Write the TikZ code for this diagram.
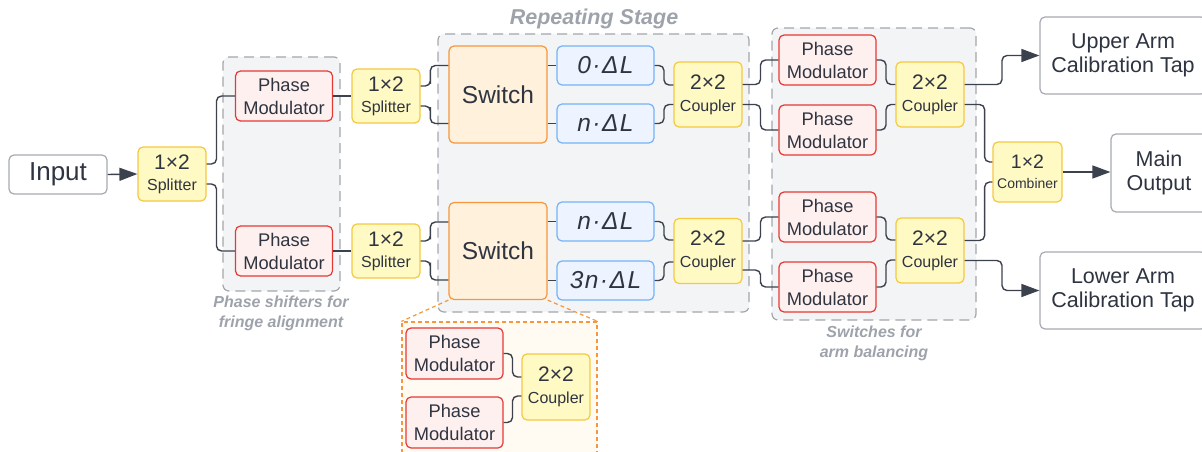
\documentclass[tikz,border=0pt]{standalone}
\usepackage{fontspec}
\setmainfont{Liberation Sans}
\usetikzlibrary{arrows.meta,calc}
\definecolor{ink}{RGB}{46,52,64}
\definecolor{wirec}{RGB}{60,66,77}
\definecolor{ioline}{RGB}{166,170,177}
\definecolor{pmfill}{RGB}{255,240,240}
\definecolor{pmline}{RGB}{229,57,53}
\definecolor{spfill}{RGB}{255,249,196}
\definecolor{spline}{RGB}{245,200,66}
\definecolor{swfill}{RGB}{255,241,219}
\definecolor{swline}{RGB}{247,150,60}
\definecolor{dlfill}{RGB}{237,244,255}
\definecolor{dlline}{RGB}{115,179,247}
\definecolor{grpfill}{RGB}{243,244,246}
\definecolor{grpline}{RGB}{163,166,171}
\definecolor{lblgray}{RGB}{158,163,171}
\definecolor{insetfill}{RGB}{255,251,242}

\newcommand{\ratio}[2]{{\fontsize{21pt}{21pt}\selectfont #1}\\#2}

\begin{document}
\begin{tikzpicture}[x=1pt, y=-1pt, >={Triangle[length=18pt,width=13pt]},
      box/.style={draw, rounded corners=5pt, line width=1.2pt, align=center, inner sep=0pt, text=ink},
      io/.style={box, draw=ioline, fill=white, font=\fontsize{21.5pt}{24pt}\selectfont},
      pmod/.style={box, draw=pmline, fill=pmfill, minimum width=97pt, minimum height=50pt,
                   font=\fontsize{18.3pt}{23pt}\selectfont},
      port/.style={box, draw=spline, fill=spfill, minimum width=68pt, minimum height=54pt,
                   font=\fontsize{16pt}{21pt}\selectfont},
      swbox/.style={box, draw=swline, fill=swfill, minimum width=98pt, minimum height=97pt,
                    font=\fontsize{24.5pt}{26pt}\selectfont},
      delay/.style={box, draw=dlline, fill=dlfill, minimum width=97pt, minimum height=39pt,
                    font=\fontsize{24.5pt}{26pt}\selectfont\itshape\addfontfeature{LetterSpace=6}},
      group/.style={draw=grpline, fill=grpfill, line width=1.2pt, rounded corners=6pt,
                    dash pattern=on 10pt off 6pt, inner sep=0pt},
      grplbl/.style={text=lblgray, align=center, font=\fontsize{16pt}{20pt}\selectfont\bfseries\itshape},
      wire/.style={draw=wirec, line width=1.4pt, rounded corners=5pt},
      zoomline/.style={draw=swline, line width=1.2pt, dash pattern=on 4pt off 3pt},
      hvh/.style={to path={-| ($(\tikztostart)!#1!(\tikztotarget)$) |- (\tikztotarget)}},
      hvh/.default=.5]
    \useasboundingbox (0,0) rectangle (1202,452);

    % dashed groups
    \node[group, minimum width=117pt, minimum height=234pt] (gshift) at (281.5,174) {};
    \node[group, minimum width=311pt, minimum height=278pt] (gstage) at (593.5,173) {};
    \node[group, minimum width=204pt, minimum height=292pt] (gbal) at (874,174) {};
    \node[grplbl] (lshift) at (281,313) {Phase shifters for\\fringe alignment};
    \node[grplbl, font=\fontsize{21.5pt}{22pt}\selectfont\bfseries\itshape] (lstage) at (594,19) {Repeating Stage};
    \node[grplbl] (lbal) at (874,343) {Switches for\\arm balancing};

    % input side
    \node[io, minimum width=98pt, minimum height=39pt, font=\fontsize{26pt}{27pt}\selectfont] (input) at (58,174.5) {Input};
    \node[port] (sp1) at (172,174) {\ratio{1×2}{Splitter}};
    \node[pmod] (pm1) at (284,96) {Phase\\Modulator};
    \node[pmod] (pm2) at (284,251) {Phase\\Modulator};
    \node[port] (sp2) at (386,96) {\ratio{1×2}{Splitter}};
    \node[port] (sp3) at (386,251) {\ratio{1×2}{Splitter}};

    % repeating stage
    \node[swbox] (sw1) at (498,94.5) {Switch};
    \node[swbox] (sw2) at (498,251) {Switch};
    \node[delay] (d1) at (605.5,65.5) {0·ΔL};
    \node[delay] (d2) at (605.5,123.5) {n·ΔL};
    \node[delay] (d3) at (605.5,221.5) {n·ΔL};
    \node[delay] (d4) at (605.5,280.5) {3n·ΔL};
    \node[port, minimum height=65pt, font=\fontsize{16pt}{22pt}\selectfont] (cp1) at (708,94.5) {\ratio{2×2}{Coupler}};
    \node[port, minimum height=65pt, font=\fontsize{16pt}{22pt}\selectfont] (cp2) at (708,251) {\ratio{2×2}{Coupler}};

    % arm balancing
    \node[pmod] (pma) at (827.5,60) {Phase\\Modulator};
    \node[pmod] (pmb) at (827.5,130) {Phase\\Modulator};
    \node[pmod] (pmc) at (827.5,217) {Phase\\Modulator};
    \node[pmod] (pmd) at (827.5,287) {Phase\\Modulator};
    \node[port, minimum height=65pt, font=\fontsize{16pt}{22pt}\selectfont] (cp3) at (930,94.5) {\ratio{2×2}{Coupler}};
    \node[port, minimum height=65pt, font=\fontsize{16pt}{22pt}\selectfont] (cp4) at (930,250.5) {\ratio{2×2}{Coupler}};
    \node[port, minimum width=69pt, minimum height=60pt, font=\fontsize{14pt}{20pt}\selectfont] (cmb) at (1027.5,172)
         {{\fontsize{19.5pt}{20pt}\selectfont 1×2}\\Combiner};

    % outputs
    \node[io, minimum width=166pt, minimum height=77pt] (upper) at (1123,55.5) {Upper Arm\\Calibration Tap};
    \node[io, minimum width=96pt, minimum height=78pt] (main) at (1159,173) {Main\\Output};
    \node[io, minimum width=166pt, minimum height=77pt] (lower) at (1123,290.5) {Lower Arm\\Calibration Tap};

    % switch detail
    \node[draw=swline, fill=insetfill, line width=1.2pt, dash pattern=on 4pt off 3pt,
          minimum width=195pt, minimum height=148pt, inner sep=0pt] (inset) at (499.5,396) {};
    \draw[zoomline] (sw2.south west) -- (inset.north west);
    \draw[zoomline] (sw2.south east) -- (inset.north east);
    \node[pmod, minimum height=51pt] (pmi1) at (454.5,353.5) {Phase\\Modulator};
    \node[pmod, minimum height=51pt] (pmi2) at (454.5,422.5) {Phase\\Modulator};
    \node[port, minimum height=66pt, font=\fontsize{16pt}{22pt}\selectfont] (cpi) at (556,387) {\ratio{2×2}{Coupler}};

    % connectors
    \draw[wire, ->] (input.east) -- (sp1.west);
    \draw[wire] ([yshift=10pt]sp1.east) to[hvh=.35] (pm1.west);
    \draw[wire] ([yshift=-10pt]sp1.east) to[hvh=.35] (pm2.west);
    \draw[wire] (pm1.east) -- (sp2.west);
    \draw[wire] (pm2.east) -- (sp3.west);
    \draw[wire] ([yshift=10pt]sp2.east) to[hvh=.35] ([yshift=29pt]sw1.west);
    \draw[wire] ([yshift=-10pt]sp2.east) to[hvh=.35] ([yshift=-29pt]sw1.west);
    \draw[wire] ([yshift=10pt]sp3.east) to[hvh=.35] ([yshift=29pt]sw2.west);
    \draw[wire] ([yshift=-10pt]sp3.east) to[hvh=.35] ([yshift=-29pt]sw2.west);
    \draw[wire] (sw1.east |- d1.west) -- (d1.west);
    \draw[wire] (sw1.east |- d2.west) -- (d2.west);
    \draw[wire] (sw2.east |- d3.west) -- (d3.west);
    \draw[wire] (sw2.east |- d4.west) -- (d4.west);
    \draw[wire] (d1.east) to[hvh] ([yshift=9.5pt]cp1.west);
    \draw[wire] (d2.east) to[hvh] ([yshift=-10pt]cp1.west);
    \draw[wire] (d3.east) to[hvh] ([yshift=11pt]cp2.west);
    \draw[wire] (d4.east) to[hvh] ([yshift=-11pt]cp2.west);
    \draw[wire] ([yshift=10pt]cp1.east) to[hvh] (pma.west);
    \draw[wire] ([yshift=-10pt]cp1.east) to[hvh] (pmb.west);
    \draw[wire] ([yshift=10pt]cp2.east) to[hvh] (pmc.west);
    \draw[wire] ([yshift=-19pt]cp2.east) to[hvh] (pmd.west);
    \draw[wire] (pma.east) to[hvh] ([yshift=10pt]cp3.west);
    \draw[wire] (pmb.east) to[hvh] ([yshift=-10pt]cp3.west);
    \draw[wire] (pmc.east) to[hvh] ([yshift=10.5pt]cp4.west);
    \draw[wire] (pmd.east) to[hvh] ([yshift=-9.5pt]cp4.west);
    \draw[wire, ->] ([yshift=10pt]cp3.east) to[hvh] (upper.west);
    \draw[wire] ([yshift=-10pt]cp3.east) to[hvh=.72] ([yshift=10pt]cmb.west);
    \draw[wire] ([yshift=10pt]cp4.east) to[hvh=.72] ([yshift=-10pt]cmb.west);
    \draw[wire, ->] ([yshift=-10pt]cp4.east) to[hvh] (lower.west);
    \draw[wire, ->] (cmb.east) -- (cmb.east -| main.west);
    \draw[wire] (pmi1.east) to[hvh] ([yshift=10pt]cpi.west);
    \draw[wire] (pmi2.east) to[hvh] ([yshift=-9pt]cpi.west);
  \end{tikzpicture}
\end{document}
